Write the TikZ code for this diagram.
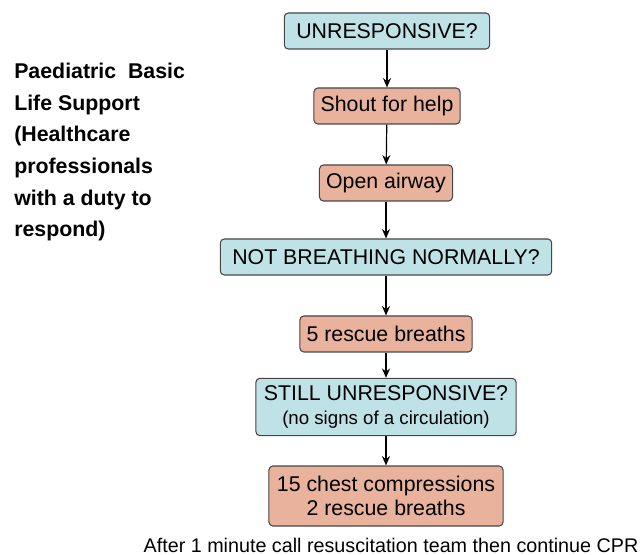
\documentclass[tikz,border=0pt]{standalone}
\usepackage{fontspec}
\setmainfont{Liberation Sans}
\usetikzlibrary{positioning, arrows.meta}
\definecolor{askfill}{RGB}{191,226,230}
\definecolor{actfill}{RGB}{233,178,157}
\definecolor{boxline}{RGB}{70,70,70}

\tikzset{
  pbox/.style={draw=boxline, line width=0.8pt, rounded corners=3pt, inner xsep=7pt,
    minimum height=27pt, align=center, font=\fontsize{16}{18}\selectfont},
  askbox/.style={pbox, fill=askfill, inner xsep=9pt},
  actbox/.style={pbox, fill=actfill, inner xsep=5pt},
  flow/.style={-{Stealth[length=7pt,width=6pt]}, line width=0.9pt}
}

\begin{document}
\begin{tikzpicture}[x=0.75pt, y=-0.75pt]
        \useasboundingbox (0,0) rectangle (642,555);

        % Title on the left
        \node[anchor=north west, align=left, font=\bfseries\fontsize{16}{23.7}\selectfont, inner sep=0pt] (title) at (14,63)
          {Paediatric\ \ Basic\\Life Support\\(Healthcare\\professionals\\with a duty to\\respond)};

        % Boxes
        \node[askbox] (unresp) at (387,31) {UNRESPONSIVE?};
        \node[actbox] (shout) at (387,106) {Shout for help};
        \node[actbox] (airway) at (386,183) {Open airway};
        \node[askbox] (notbreath) at (386,257) {NOT BREATHING NORMALLY?};
        \node[actbox] (breaths) at (386,334) {5 rescue breaths};
        \node[askbox, inner xsep=6pt, minimum height=43pt] (still) at (386,407)
          {STILL UNRESPONSIVE?\\{\fontsize{14}{16}\selectfont (no signs of a circulation)}};
        \node[actbox, inner xsep=6pt, minimum height=45pt] (cpr) at (386,496)
          {15 chest compressions\\2 rescue breaths};

        % Footer
        \node[font=\fontsize{14.8}{18}\selectfont, inner sep=0pt] (team) at (391,545)
          {After 1 minute call resuscitation team then continue CPR};

        % Arrows
        \draw[flow] (unresp) -- (shout);
        \draw[flow] (shout) -- (airway);
        \draw[flow] (airway) -- (notbreath);
        \draw[flow] (notbreath) -- (breaths);
        \draw[flow] (breaths) -- (still);
        \draw[flow] (still) -- (cpr);
    \end{tikzpicture}
\end{document}
